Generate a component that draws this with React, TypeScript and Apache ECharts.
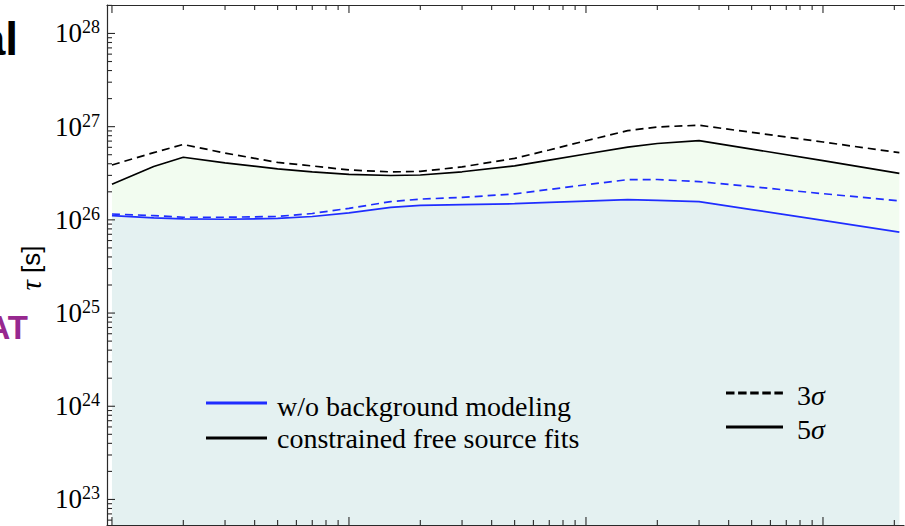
import React, { useEffect, useRef } from 'react';
import * as echarts from 'echarts';

// x: mass-like variable on a log axis (its labels are cropped out of the reference)
const MASS = [10, 15, 20, 30, 50, 70, 100, 150, 200, 300, 500, 700, 1000, 1500, 2000, 3000, 5000, 10000, 21000];
// constrained free source fits
const CONSTRAINED_3SIGMA = [3.88e26, 5.26e26, 6.44e26, 5.21e26, 4.13e26, 3.79e26, 3.43e26, 3.27e26, 3.31e26, 3.70e26, 4.57e26, 5.62e26, 7.06e26, 9.06e26, 9.93e26, 1.035e27, 8.69e26, 6.84e26, 5.26e26];
const CONSTRAINED_5SIGMA = [2.41e26, 3.74e26, 4.70e26, 4.09e26, 3.52e26, 3.27e26, 3.07e26, 2.99e26, 3.03e26, 3.28e26, 3.79e26, 4.38e26, 5.09e26, 6.04e26, 6.60e26, 7.08e26, 5.75e26, 4.32e26, 3.16e26];
// w/o background modeling
const NOBKG_3SIGMA = [1.156e26, 1.11e26, 1.066e26, 1.066e26, 1.087e26, 1.17e26, 1.33e26, 1.57e26, 1.67e26, 1.74e26, 1.90e26, 2.12e26, 2.38e26, 2.70e26, 2.71e26, 2.57e26, 2.27e26, 1.91e26, 1.60e26];
const NOBKG_5SIGMA = [1.109e26, 1.052e26, 1.023e26, 1.015e26, 1.035e26, 1.087e26, 1.19e26, 1.36e26, 1.43e26, 1.46e26, 1.49e26, 1.54e26, 1.59e26, 1.65e26, 1.62e26, 1.57e26, 1.29e26, 9.86e25, 7.38e25];

// axis ranges
const X_MIN = 9.53;
const X_MAX = 21970;
const Y_MIN = 5.32e22;
const Y_MAX = 2.02e28;
const X_DECADES = [0, 1, 2, 3, 4];
const Y_DECADES = [22, 23, 24, 25, 26, 27, 28];
const MULTIPLIERS = [1, 2, 3, 4, 5, 6, 7, 8, 9];

const LEGEND_SAMPLES = ['w/o background modeling', 'constrained free source fits'];
const LEGEND_STYLES = ['3σ', '5σ'];

const BLUE = '#1f2dff';
const BLACK = '#000000';
const GREEN_FILL = '#f2fcf0';
const TEAL_FILL = '#e4f1f1';
const AXIS = '#2a2a2a';
const SERIF = 'Liberation Serif, serif';
const SANS = 'Liberation Sans, sans-serif';

function ticksIn(decades: number[], lo: number, hi: number) {
  const out: { v: number; major: boolean }[] = [];
  decades.forEach((d) => {
    MULTIPLIERS.forEach((m) => {
      const v = m * Math.pow(10, d);
      if (v >= lo && v <= hi) out.push({ v, major: m === 1 });
    });
  });
  return out;
}

export default function App() {
  const ref = useRef<HTMLDivElement>(null);

  useEffect(() => {
    if (!ref.current) return;
    const chart = echarts.init(ref.current, undefined, { renderer: 'svg' });

    const xTicks = ticksIn(X_DECADES, X_MIN, X_MAX);
    const yTicks = ticksIn(Y_DECADES, Y_MIN, Y_MAX);
    const pairs = (arr: number[]) => MASS.map((m, i) => [m, arr[i]]);
    const txt = (x: number, y: number, style: any) => ({
      type: 'text', x, y, z: 100, zlevel: 0,
      style: { fill: '#000', verticalAlign: 'middle', textVerticalAlign: 'middle', ...style },
    });

    const option: any = {
      animation: false,
      backgroundColor: '#ffffff',
      grid: { left: 107, top: 5, right: 1, bottom: 1 },
      xAxis: [
        {
          type: 'log',
          min: X_MIN,
          max: X_MAX,
          position: 'bottom',
          axisLine: { show: true, lineStyle: { color: AXIS, width: 1.2 } },
          axisTick: { show: false },
          axisLabel: { show: false },
          splitLine: { show: false },
        },
        {
          type: 'log',
          min: X_MIN,
          max: X_MAX,
          position: 'top',
          axisLine: { show: true, lineStyle: { color: AXIS, width: 1.2 } },
          axisTick: { show: false },
          axisLabel: { show: false },
          splitLine: { show: false },
        },
      ],
      yAxis: {
        type: 'log',
        min: Y_MIN,
        max: Y_MAX,
        axisLine: { show: true, lineStyle: { color: AXIS, width: 1.2 } },
        axisTick: { show: false },
        splitLine: { show: false },
        axisLabel: {
          show: true,
          margin: 7,
          color: '#000',
          fontFamily: SERIF,
          formatter: (v: number) => {
            const l = Math.log10(v);
            const r = Math.round(l);
            if (Math.abs(l - r) > 1e-6) return '';
            return `{b|10}{s|${r}}`;
          },
          rich: {
            b: { fontFamily: SERIF, fontSize: 27, color: '#000', lineHeight: 30 },
            s: { fontFamily: SERIF, fontSize: 18, color: '#000', verticalAlign: 'top', lineHeight: 18 },
          },
        },
      },
      series: [
        {
          type: 'custom',
          name: 'fills',
          xAxisIndex: 0,
          yAxisIndex: 0,
          silent: true,
          z: 1,
          data: [[MASS[0], NOBKG_5SIGMA[0]]],
          renderItem: (_p: any, api: any) => {
            const last = MASS[MASS.length - 1];
            const bl = api.coord([MASS[0], Y_MIN]);
            const br = api.coord([last, Y_MIN]);
            const green = MASS.map((m, i) => api.coord([m, CONSTRAINED_5SIGMA[i]]));
            const teal = MASS.map((m, i) => api.coord([m, NOBKG_5SIGMA[i]]));
            return {
              type: 'group',
              children: [
                { type: 'polygon', shape: { points: [...green, br, bl] }, style: { fill: GREEN_FILL } },
                { type: 'polygon', shape: { points: [...teal, br, bl] }, style: { fill: TEAL_FILL } },
              ],
            };
          },
        },
        {
          type: 'line',
          name: 'constrained 3σ',
          data: pairs(CONSTRAINED_3SIGMA),
          showSymbol: false,
          z: 3,
          lineStyle: { color: BLACK, width: 1.7, type: [8, 5] },
        },
        {
          type: 'line',
          name: 'constrained 5σ',
          data: pairs(CONSTRAINED_5SIGMA),
          showSymbol: false,
          z: 3,
          lineStyle: { color: BLACK, width: 1.7 },
        },
        {
          type: 'line',
          name: 'w/o bkg 3σ',
          data: pairs(NOBKG_3SIGMA),
          showSymbol: false,
          z: 3,
          lineStyle: { color: BLUE, width: 1.7, type: [8, 5] },
        },
        {
          type: 'line',
          name: 'w/o bkg 5σ',
          data: pairs(NOBKG_5SIGMA),
          showSymbol: false,
          z: 3,
          lineStyle: { color: BLUE, width: 1.7 },
        },
        {
          type: 'custom',
          name: 'ticks',
          xAxisIndex: 0,
          yAxisIndex: 0,
          silent: true,
          z: 5,
          data: [[MASS[0], NOBKG_5SIGMA[0]]],
          renderItem: (_p: any, api: any) => {
            const children: any[] = [];
            const st = { stroke: AXIS, lineWidth: 1.1 };
            xTicks.forEach((t) => {
              const [px, top] = api.coord([t.v, Y_MAX]);
              const [, bot] = api.coord([t.v, Y_MIN]);
              const len = t.major ? 8 : 5;
              children.push({ type: 'line', shape: { x1: px, y1: top, x2: px, y2: top + len }, style: st });
              children.push({ type: 'line', shape: { x1: px, y1: bot, x2: px, y2: bot - len }, style: st });
            });
            yTicks.forEach((t) => {
              const [left, py] = api.coord([X_MIN, t.v]);
              const len = t.major ? 8 : 5;
              children.push({ type: 'line', shape: { x1: left, y1: py, x2: left + len, y2: py }, style: st });
            });
            return { type: 'group', children };
          },
        },
      ],
      graphic: [
        txt(18, 39, { text: 'al', fontFamily: SANS, fontWeight: 'bold', fontSize: 46, align: 'right', textAlign: 'right' }),
        txt(28, 327, { text: 'AT', fill: '#97288f', fontFamily: SANS, fontWeight: 'bold', fontSize: 33, align: 'right', textAlign: 'right' }),
        {
          type: 'text',
          x: 31,
          y: 268,
          z: 100,
          rotation: Math.PI / 2,
          style: {
            text: '{t|τ} [s]',
            fill: '#000',
            fontFamily: SANS,
            fontSize: 26,
            align: 'center',
            verticalAlign: 'middle',
            textAlign: 'center',
            textVerticalAlign: 'middle',
            rich: { t: { fontFamily: SERIF, fontStyle: 'italic', fontSize: 29, fill: '#000' } },
          },
        },
        // legend: colours
        { type: 'line', z: 100, shape: { x1: 206, y1: 403, x2: 267, y2: 403 }, style: { stroke: BLUE, lineWidth: 3 } },
        { type: 'line', z: 100, shape: { x1: 206, y1: 438, x2: 267, y2: 438 }, style: { stroke: BLACK, lineWidth: 3 } },
        txt(277, 406, { text: LEGEND_SAMPLES[0], fontFamily: SERIF, fontSize: 28, align: 'left', textAlign: 'left' }),
        txt(277, 438, { text: LEGEND_SAMPLES[1], fontFamily: SERIF, fontSize: 28, align: 'left', textAlign: 'left' }),
        // legend: significance
        { type: 'line', z: 100, shape: { x1: 726, y1: 393, x2: 783, y2: 393 }, style: { stroke: BLACK, lineWidth: 3, lineDash: [8.5, 3.6] } },
        { type: 'line', z: 100, shape: { x1: 726, y1: 427, x2: 783, y2: 427 }, style: { stroke: BLACK, lineWidth: 3 } },
        txt(797, 395, {
          text: `${LEGEND_STYLES[0][0]}{i|${LEGEND_STYLES[0][1]}}`, fontFamily: SERIF, fontSize: 28, align: 'left', textAlign: 'left',
          rich: { i: { fontFamily: SERIF, fontStyle: 'italic', fontSize: 28, fill: '#000' } },
        }),
        txt(797, 429, {
          text: `${LEGEND_STYLES[1][0]}{i|${LEGEND_STYLES[1][1]}}`, fontFamily: SERIF, fontSize: 28, align: 'left', textAlign: 'left',
          rich: { i: { fontFamily: SERIF, fontStyle: 'italic', fontSize: 28, fill: '#000' } },
        }),
      ],
    };

    chart.setOption(option);
    return () => chart.dispose();
  }, []);

  return (
    <div
      ref={ref}
      style={{ position: 'absolute', left: 0, top: 0, width: 905, height: 526, background: '#fff' }}
    />
  );
}
